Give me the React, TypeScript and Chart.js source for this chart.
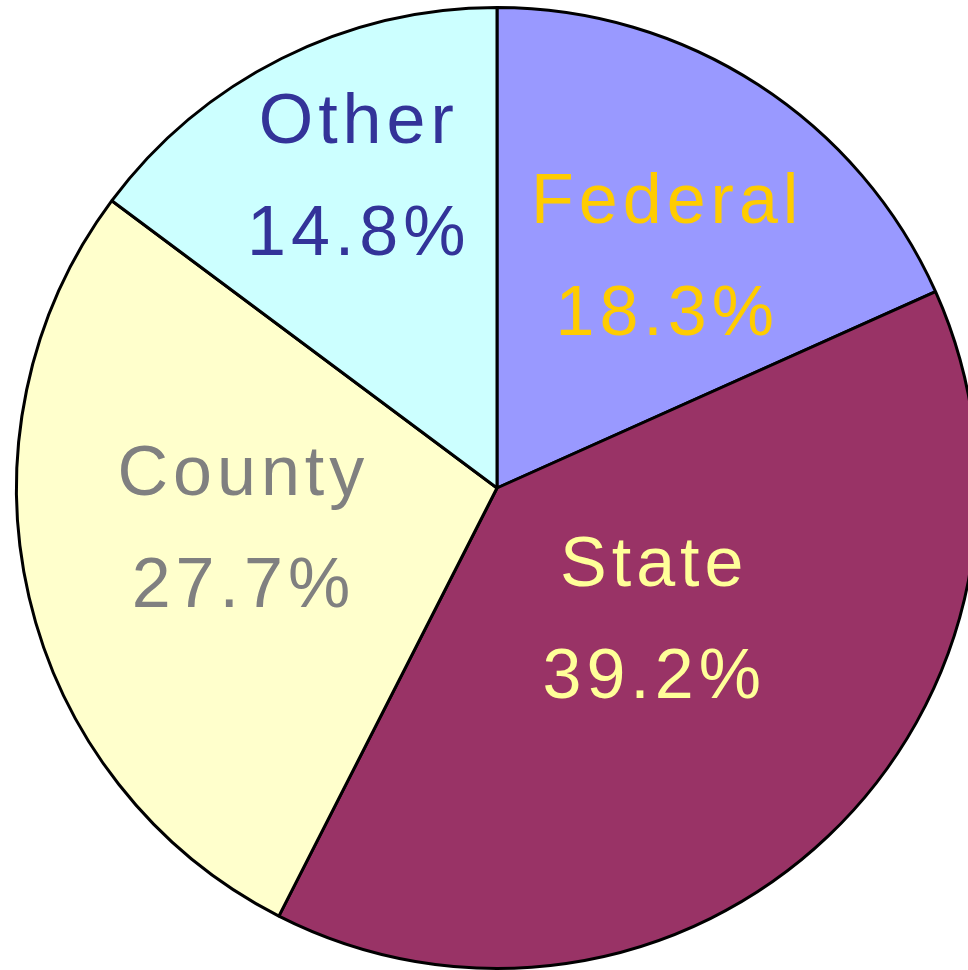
import React, { useEffect, useRef } from "react";
import { Chart, registerables } from "chart.js";

Chart.register(...registerables);

const categories = ["Federal", "State", "County", "Other"];
const shares = [18.3, 39.2, 27.7, 14.8];
const sliceColors = ["#9999FF", "#993366", "#FFFFCC", "#CCFFFF"];
const labelColors = ["#FFCC00", "#FFFF99", "#808080", "#333399"];
// label block centres, as fractions of the radius relative to pie centre
const labelOffsets = [
  [0.349, -0.475],
  [0.322, 0.28],
  [-0.533, 0.091],
  [-0.293, -0.641],
];

const labelPlugin = {
  id: "sliceLabels",
  afterDatasetsDraw(chart: any) {
    const meta = chart.getDatasetMeta(0);
    const ctx = chart.ctx;
    ctx.save();
    ctx.font = "70px 'Liberation Sans', Arial, sans-serif";
    (ctx as any).letterSpacing = "5px";
    ctx.textAlign = "center";
    ctx.textBaseline = "middle";
    meta.data.forEach((arc: any, i: number) => {
      const R = arc.outerRadius;
      const cx = arc.x + labelOffsets[i][0] * R;
      const cy = arc.y + labelOffsets[i][1] * R;
      ctx.fillStyle = labelColors[i];
      ctx.fillText(categories[i], cx + 2.5, cy - 56);
      ctx.fillText(shares[i].toFixed(1) + "%", cx + 2.5, cy + 56);
    });
    ctx.restore();
  },
};

export default function App() {
  const ref = useRef<HTMLCanvasElement>(null);
  useEffect(() => {
    if (!ref.current) return;
    const chart = new Chart(ref.current, {
      type: "pie",
      data: {
        labels: categories,
        datasets: [
          {
            data: shares,
            backgroundColor: sliceColors,
            borderColor: "#000000",
            borderWidth: 3,
          },
        ],
      },
      options: {
        responsive: false,
        animation: false,
        layout: { padding: 6 },
        plugins: {
          legend: { display: false },
          tooltip: { enabled: false },
        },
      },
      plugins: [labelPlugin],
    });
    return () => chart.destroy();
  }, []);
  return (
    <div style={{ position: "fixed", left: 0, top: 0, width: 994, height: 976, background: "#fff" }}>
      <canvas ref={ref} width={994} height={976} style={{ width: 994, height: 976 }} />
    </div>
  );
}
